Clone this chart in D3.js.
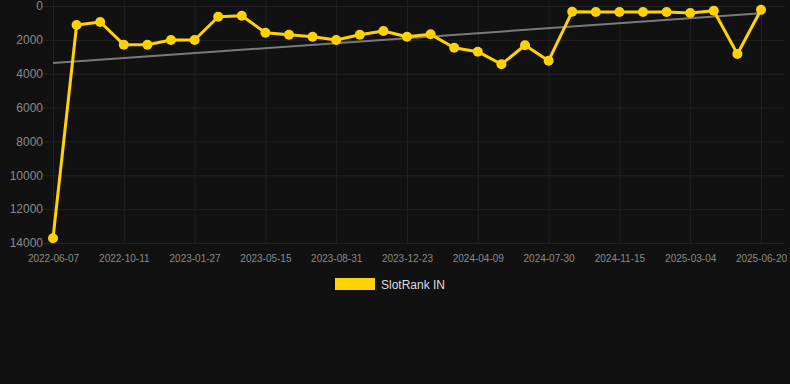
<!DOCTYPE html>
<html>
<head>
<meta charset="utf-8">
<script src="https://cdn.jsdelivr.net/npm/d3@7"></script>
<style>
  body { margin: 0; background: #111111; }
  svg { display: block; font-family: "Liberation Sans", Arial, sans-serif; }
  .grid line { stroke: #222222; stroke-width: 1; }
  .grid path { display: none; }
  .axis path, .axis line { display: none; }
  .axis text { fill: #8a8a8a; }
</style>
</head>
<body>
<div id="chart"></div>
<script>
// Dates (categories), one per point
var dates = [
  "2022-06-07", "2022-07-19", "2022-08-30", "2022-10-11", "2022-11-16", "2022-12-22",
  "2023-01-27", "2023-03-04", "2023-04-09", "2023-05-15", "2023-06-20", "2023-07-26",
  "2023-08-31", "2023-10-08", "2023-11-15", "2023-12-23", "2024-01-28", "2024-03-04",
  "2024-04-09", "2024-05-16", "2024-06-23", "2024-07-30", "2024-09-04", "2024-10-10",
  "2024-11-15", "2024-12-21", "2025-01-27", "2025-03-04", "2025-04-09", "2025-05-15",
  "2025-06-20"
];

// SlotRank IN values (rank, lower is better)
var ranks = [
  13720, 1122, 945, 2285, 2285, 2008,
  2008, 632, 573, 1577, 1695, 1813,
  2008, 1695, 1477, 1813, 1673, 2463,
  2699, 3444, 2321, 3230, 337, 354,
  354, 354, 354, 413, 278, 2835,
  219
];

// Tick labels
var xTicks = ["2022-06-07", "2022-10-11", "2023-01-27", "2023-05-15", "2023-08-31", "2023-12-23",
  "2024-04-09", "2024-07-30", "2024-11-15", "2025-03-04", "2025-06-20"];
var yTicks = [0, 2000, 4000, 6000, 8000, 10000, 12000, 14000];

var svgWidth = 790;
var svgHeight = 384;

var svg = d3.select("#chart")
    .append("svg")
    .attr("width", svgWidth)
    .attr("height", svgHeight);

// scales
var xScale = d3.scalePoint()
    .domain(dates)
    .range([53, 761]);

var yScale = d3.scaleLinear()
    .domain([0, 14000])
    .range([6, 243]);

// gridlines
svg.append("g")
    .attr("class", "grid")
    .attr("transform", "translate(43, 0)")
    .call(d3.axisLeft(yScale).tickValues(yTicks).tickSize(-742).tickFormat(""));

svg.append("g")
    .attr("class", "grid")
    .attr("transform", "translate(0, 243)")
    .call(d3.axisBottom(xScale).tickValues(xTicks).tickSize(-243).tickFormat(""));

// axes
svg.append("g")
    .attr("class", "axis")
    .attr("transform", "translate(43, 0)")
    .call(d3.axisLeft(yScale).tickValues(yTicks).tickSize(0).tickPadding(0).tickFormat(d3.format("d")))
    .selectAll("text")
    .attr("font-size", "12px");

svg.append("g")
    .attr("class", "axis")
    .attr("transform", "translate(0, 243)")
    .call(d3.axisBottom(xScale).tickValues(xTicks).tickSize(0).tickPadding(12))
    .selectAll("text")
    .attr("font-size", "10px");

// trend line (least squares)
var n = ranks.length;
var meanX = d3.mean(ranks, (d, i) => i);
var meanY = d3.mean(ranks);
var num = d3.sum(ranks, (d, i) => (i - meanX) * (d - meanY));
var den = d3.sum(ranks, (d, i) => (i - meanX) * (i - meanX));
var slope = num / den;
var intercept = meanY - slope * meanX;

svg.append("line")
    .attr("x1", xScale(dates[0]))
    .attr("y1", yScale(intercept))
    .attr("x2", xScale(dates[n - 1]))
    .attr("y2", yScale(intercept + slope * (n - 1)))
    .attr("stroke", "#7a7a7a")
    .attr("stroke-width", 2);

// line
var line = d3.line()
    .x((d, i) => xScale(dates[i]))
    .y(d => yScale(d));

svg.append("path")
    .datum(ranks)
    .attr("d", line)
    .attr("fill", "none")
    .attr("stroke", "#ffd200")
    .attr("stroke-width", 3)
    .attr("stroke-linejoin", "round");

svg.selectAll(".dot")
    .data(ranks)
    .enter()
    .append("circle")
    .attr("class", "dot")
    .attr("cx", (d, i) => xScale(dates[i]))
    .attr("cy", d => yScale(d))
    .attr("r", 5)
    .attr("fill", "#ffd200");

// legend
svg.append("rect")
    .attr("x", 335)
    .attr("y", 278)
    .attr("width", 40)
    .attr("height", 12)
    .attr("fill", "#ffd200");

svg.append("text")
    .attr("x", 381)
    .attr("y", 289)
    .attr("fill", "#dddddd")
    .attr("font-size", "12px")
    .text("SlotRank IN");
</script>
</body>
</html>
